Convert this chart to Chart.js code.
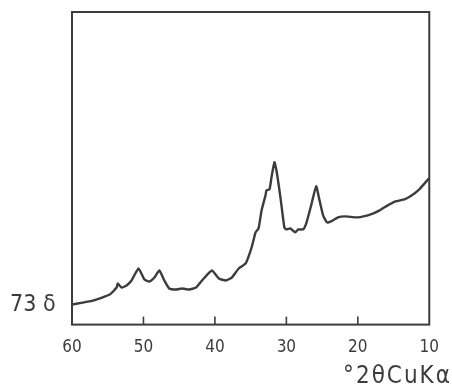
<!DOCTYPE html>
<html>
<head>
<meta charset="utf-8">
<script src="https://cdn.jsdelivr.net/npm/chart.js@4/dist/chart.umd.min.js"></script>
<style>
html,body{margin:0;padding:0;background:#fff;}
#wrap{width:452px;height:391px;position:relative;}
</style>
</head>
<body>
<div id="wrap"><canvas id="c" width="452" height="391"></canvas></div>
<script>
const twoTheta = [60.0,57.08,54.72,53.75,53.61,53.06,52.36,51.67,50.69,49.86,49.17,48.47,47.78,47.08,46.39,45.42,44.58,43.61,42.64,41.81,40.42,39.44,38.47,37.64,36.67,35.69,34.86,34.31,33.89,33.47,32.92,32.78,32.36,32.08,31.67,31.39,30.83,30.28,30.0,29.44,28.75,28.33,27.64,27.22,26.53,25.83,25.42,24.86,24.31,23.75,22.78,21.81,20.0,18.19,16.94,15.83,14.72,13.47,12.64,11.39,10.28,10.0];
const intensity = [20,24,30,37,41,37,39,44,56,45,43,47,54,44,36,35,36,35,37,44,54,46,44,47,56,61,77,92,96,114,129,134,135,147,162,154,127,97,95,96,92,95,95,101,119,138,126,109,102,103,107,108,107,110,114,119,123,125,128,135,144,146];
const xTicks = [60,50,40,30,20,10];
const sampleLabel = "73 δ";
const axisLabel = "°2θCuKα";

const ink = '#3c3c3c';
const fontFam = '"DejaVu Sans Condensed","Liberation Sans Narrow",sans-serif';

const frame = {
  id:'frame',
  afterDraw(chart){
    const {ctx, chartArea:a, scales:{x}} = chart;
    ctx.save();
    ctx.strokeStyle = ink;
    ctx.lineWidth = 2;
    ctx.strokeRect(a.left, a.top, a.right-a.left, a.bottom-a.top);
    ctx.lineWidth = 1.6;
    xTicks.forEach(v=>{
      const px = x.getPixelForValue(v);
      if (v!==60 && v!==10){
        ctx.beginPath(); ctx.moveTo(px,a.bottom); ctx.lineTo(px,a.bottom-8); ctx.stroke();
      }
    });
    ctx.fillStyle = ink;
    ctx.font = '23px '+fontFam;
    ctx.textBaseline = 'middle';
    ctx.textAlign = 'left';
    ctx.fillText(sampleLabel, 10, 305);
    ctx.font = '24px '+fontFam;
    ctx.letterSpacing = '2px';
    ctx.textAlign = 'right';
    ctx.fillText(axisLabel, 452, 377);
    ctx.restore();
  }
};

new Chart(document.getElementById('c'), {
  type:'line',
  data:{ datasets:[{
    data: twoTheta.map((t,i)=>({x:t,y:intensity[i]})),
    borderColor: ink, borderWidth: 2.4, pointRadius: 0, tension: 0.15, fill:false
  }]},
  options:{
    responsive:false, animation:false,
    layout:{padding:{left:72,right:9,top:12,bottom:20}},
    plugins:{legend:{display:false}, tooltip:{enabled:false}},
    scales:{
      x:{type:'linear', reverse:true, min:10, max:60,
         afterBuildTicks(s){ s.ticks = xTicks.map(v=>({value:v})); },
         grid:{display:false, drawTicks:false}, border:{display:false},
         ticks:{color:ink, padding:13, font:{size:17, family:fontFam}, maxRotation:0, autoSkip:false}},
      y:{display:false, min:0, max:312}
    }
  },
  plugins:[frame]
});
</script>
</body>
</html>
